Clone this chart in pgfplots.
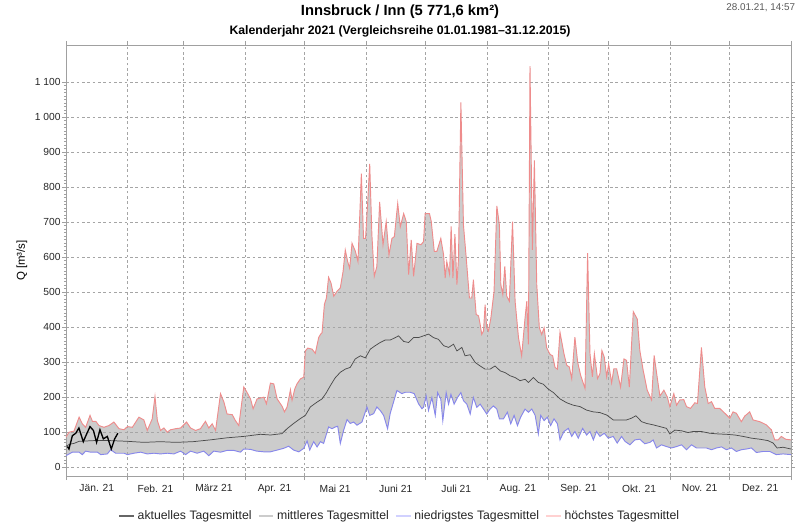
\documentclass[border=0pt]{standalone}
\usepackage{fontspec}
\setmainfont{Liberation Sans}
\usepackage{pgfplots}
\pgfplotsset{compat=1.18}
\usepgfplotslibrary{fillbetween}
\definecolor{maxc}{RGB}{238,140,140}
\definecolor{minc}{RGB}{135,135,235}
\definecolor{meanc}{RGB}{75,75,75}
\definecolor{fillc}{RGB}{204,204,204}
\definecolor{gridc}{RGB}{165,165,165}
\definecolor{framec}{RGB}{160,160,160}
\begin{document}
\begin{tikzpicture}
\begin{axis}[
  at={(0pt,0pt)}, anchor=south west,
  scale only axis, width=543.75pt, height=323.25pt,
  set layers,
  xmin=0, xmax=365, ymin=-25, ymax=1205,
  axis line style={framec},
  every tick/.style={framec},
  tick align=outside,
  major tick length=3pt, minor tick length=1.6pt,
  xtick={0,31,59,90,120,151,181,212,243,273,304,334,365},
  xticklabels={},
  extra x ticks={15.5,45,74.5,105,135.5,166,196.5,227.5,258,288.5,319,349.5},
  extra x tick labels={Jän. 21,Feb. 21,März 21,Apr. 21,Mai 21,Juni 21,Juli 21,Aug. 21,Sep. 21,Okt. 21,Nov. 21,Dez. 21},
  extra x tick style={grid=none, major tick length=0pt},
  ytick={0,100,...,1100},
  yticklabels={0,100,200,300,400,500,600,700,800,900,1 000,1 100},
  minor y tick num=9,
  xmajorgrids, ymajorgrids,
  major grid style={gridc, dash pattern=on 2pt off 2pt, line width=0.4pt},
  tick label style={font=\fontsize{7.7}{9}\selectfont, text=black!85},
  xticklabel style={yshift=-3pt},
  yticklabel style={xshift=2.5pt},
  ylabel={Q [m³/s]},
  ylabel style={at={(axis description cs:-0.0607,0.5)}, anchor=center, font=\fontsize{8.6}{10}\selectfont},
  legend style={at={(0.4607,-0.0928)}, anchor=center, draw=none, fill=none,
    font=\fontsize{9.2}{11}\selectfont, text=black!85,
    /tikz/every even column/.append style={column sep=2.5pt}},
  legend columns=4,
  legend image code/.code={\draw[#1] (0pt,0pt) -- (11pt,0pt);},
]
\addlegendimage{line width=1.6pt, black!60}
\addlegendentry{aktuelles Tagesmittel}
\addlegendimage{line width=1.6pt, black!20}
\addlegendentry{mittleres Tagesmittel}
\addlegendimage{line width=1.6pt, blue!18}
\addlegendentry{niedrigstes Tagesmittel}
\addlegendimage{line width=1.6pt, red!18}
\addlegendentry{höchstes Tagesmittel}

\addplot[name path=maxp, draw=maxc, line width=0.7pt, forget plot] coordinates {
(0,86)(1.5,100)(4,103)(6.6,143)(8.2,124)(9.9,114)(12.1,148)(13.3,131)(15,131)(16.6,119)(19.1,114)(21.6,119)(24.1,129)(26.7,110)(29.2,107)(30.9,116)(33.4,114)(36.7,143)(39.2,135)(40.9,105)(43.4,138)(44.8,202)(46,133)(47.6,105)(49.3,112)(51,100)(52.6,107)(55.2,110)(57.7,112)(60.7,129)(62.7,112)(65.2,105)(67.7,110)(70.2,131)(71.9,112)(73.6,124)(75.3,105)(77.8,210)(79.5,186)(81.1,152)(83.7,150)(85.3,133)(87,119)(89.5,229)(91,215)(92.9,195)(94.2,167)(96.2,195)(99.6,200)(100.9,181)(102.9,240)(104.6,238)(106.3,195)(108.8,174)(110,158)(111.3,172)(113,221)(113.8,191)(115.2,224)(116.3,238)(118,252)(119.7,257)(120.5,332)(121.7,340)(123.9,337)(125.5,325)(127.2,370)(128.1,379)(128.9,384)(130.1,465)(131.1,483)(132.2,542)(133.4,526)(134.8,488)(136.4,502)(138.1,512)(139.5,559)(140.6,620)(141.8,587)(142.8,568)(144,639)(145.7,616)(147,587)(148.7,838)(149.8,653)(150.8,653)(151.9,757)(152.9,866)(154,663)(155.2,545)(156.5,573)(157.9,757)(159.6,635)(161.2,701)(162.6,606)(164.1,653)(165.3,658)(167,753)(168.3,686)(170,724)(171.3,701)(172.5,550)(173.8,649)(175,545)(176.7,639)(178.7,635)(180,644)(180.8,724)(183,724)(183.9,701)(185.4,616)(186.7,616)(188.7,653)(190.1,606)(190.9,540)(191.7,587)(193.1,551)(193.9,687)(194.8,540)(195.8,665)(196.8,521)(197.6,597)(198.8,1041)(200.1,691)(201.5,597)(203.1,483)(204.3,483)(205.1,535)(206.5,436)(207.7,432)(208.5,408)(209.3,379)(210.2,389)(211,464)(211.8,398)(212.7,389)(213.9,426)(215.5,502)(216.9,746)(218.2,691)(218.9,521)(219.9,493)(220.9,573)(221.9,488)(223.2,474)(224.8,701)(226.1,474)(227.8,370)(229.4,318)(231.1,426)(232,474)(232.8,351)(233.6,1145)(234.8,620)(235.8,876)(237,521)(238.3,398)(239.5,379)(240.7,398)(242,341)(243.7,322)(245,318)(246.2,285)(247.4,280)(248.7,385)(250.7,324)(252.1,291)(253.4,286)(254.6,253)(256.2,371)(257.6,300)(259.1,262)(261.3,225)(262.6,611)(263.8,324)(265,258)(266,324)(267.6,253)(268.8,267)(269.8,333)(271,314)(272.2,258)(273.2,295)(274.7,241)(275.8,281)(277.2,281)(279.2,229)(280.9,309)(282.2,305)(283.6,229)(285.6,444)(287.6,423)(288.9,333)(290.6,276)(292.6,220)(294.8,192)(296.1,319)(297.6,258)(299,203)(301,220)(302.7,201)(304,173)(306,210)(307.4,177)(309,192)(311,193)(312.4,173)(314.4,168)(316.6,184)(317.9,182)(319.9,342)(321.6,229)(323.3,182)(325,187)(326.6,168)(329.1,168)(331.7,154)(334.2,140)(335.8,158)(337.5,154)(340,130)(341.7,146)(344.2,158)(345.9,135)(349.3,130)(352.6,121)(355.1,107)(356.8,78)(358.5,78)(360.1,88)(362.3,80)(365,78)
};
\addplot[name path=minp, draw=minc, line width=0.7pt, forget plot] coordinates {
(0,33)(3.2,43)(6.6,43)(8.2,36)(9.9,46)(12.4,43)(15.8,43)(17.5,36)(20.8,38)(22.5,50)(25,40)(29.2,40)(30.9,36)(34.2,40)(37.6,43)(40.9,38)(44.3,40)(47.6,38)(51,40)(54.3,38)(57.7,46)(60.2,36)(62.7,46)(66,40)(69.4,46)(71.9,33)(74.4,46)(77.8,43)(81.1,48)(84.5,48)(87.8,43)(89.5,52)(92.9,51)(96,46)(99.6,44)(102.9,44)(106.3,49)(109.6,54)(112.1,60)(114.6,49)(117.2,44)(119.7,54)(121.4,75)(122.7,49)(124.7,73)(126.4,58)(128.1,73)(129.7,68)(132.2,115)(133.9,110)(135.6,115)(136.8,117)(138.1,68)(139.8,106)(141.5,136)(143.1,125)(144.8,129)(146.5,120)(149,129)(151.5,172)(152.9,148)(154.9,153)(156.5,172)(158.2,162)(159.9,148)(161.9,110)(163.2,153)(164.9,186)(166.6,219)(169.1,210)(170.8,214)(173.3,214)(175.3,210)(177.5,181)(179.2,167)(180,171)(181.3,204)(182.5,162)(184.2,199)(185.9,148)(187.1,213)(188.7,194)(189.7,133)(191.4,213)(192.6,180)(193.8,208)(195.4,180)(197.1,199)(198.8,213)(200.1,190)(201.8,180)(203.5,152)(205.1,199)(206.8,171)(208.5,180)(210.2,166)(211.8,152)(213.5,166)(215.2,175)(216.9,166)(218.2,138)(220.2,138)(222.2,157)(223.9,124)(225.6,148)(227.3,119)(228.9,143)(231.1,166)(232.8,157)(234.5,166)(236.2,148)(237.8,95)(239,148)(240.7,133)(242.3,143)(244,119)(245.7,138)(247.4,124)(248.7,78)(250.7,102)(252.9,111)(254.6,88)(256.2,102)(257.9,83)(260.1,111)(262.1,92)(263.8,102)(265.5,78)(267.1,102)(268.8,88)(271,97)(273,83)(275.5,88)(277.5,69)(279.7,88)(281.4,74)(283.9,64)(286.4,78)(288.9,80)(291.4,67)(294,71)(295.6,78)(297.3,55)(299.8,64)(302.3,59)(304.8,55)(307.4,59)(309.9,64)(312.4,50)(314.9,64)(317.4,55)(319.9,55)(322.4,55)(325,50)(327.5,55)(330,58)(332.5,50)(335,55)(337.5,45)(340,50)(342.5,52)(345.1,55)(347.6,42)(350.9,45)(354.3,45)(357.6,36)(361,38)(365,36)
};
\addplot[fill=fillc, draw=none, forget plot] fill between[of=maxp and minp, on layer=axis background];
\addplot[draw=meanc, line width=0.55pt, forget plot] coordinates {
(0,60)(2,66)(4,68)(6.6,74)(14,76)(22.5,76)(30.9,74)(39.2,71)(47.6,73)(55.2,71)(64,73)(72.5,78)(81.1,84)(89.5,88)(97.9,94)(103,92)(108.8,96)(111.3,110)(114.6,125)(118,139)(120.5,148)(123,172)(126.4,186)(128.9,195)(131,212)(133.1,233)(135.5,255)(138.1,271)(140.6,280)(143.1,285)(145.6,309)(148.2,318)(150.7,312)(153.2,337)(155.7,347)(158.2,356)(160.7,363)(163.2,363)(165.8,370)(167.4,375)(170,359)(172.5,356)(175,370)(177.5,370)(180,375)(182.5,380)(185,370)(187.5,365)(190.1,347)(192.6,342)(195.1,351)(196.8,332)(199.3,342)(200.9,318)(203.5,321)(206,299)(208.5,289)(211,280)(213.5,280)(216,289)(218.6,275)(221.1,270)(223.6,261)(226.1,256)(228.6,247)(231.1,251)(232.8,242)(235.3,256)(237.8,242)(240.3,237)(242.8,223)(245.4,213)(248.7,195)(252.1,184)(255.4,177)(258.8,173)(262.1,163)(265.5,158)(268.8,156)(272.2,149)(275.5,135)(278.9,135)(282.2,135)(284.7,140)(286.9,147)(289.8,130)(292.3,125)(295.6,121)(299,116)(302.3,111)(304,95)(306.5,106)(309.9,104)(313.2,99)(315.7,102)(319.9,102)(324.1,97)(328.3,95)(332.5,94)(336.7,92)(340.9,88)(345.1,83)(349.3,80)(353.4,76)(356,69)(358,55)(361,57)(365,52)
};
\addplot[draw=black, line width=1pt, forget plot] coordinates {
(0.7,59)(1.5,52)(3.2,90)(4.9,97)(6.5,112)(8.7,73)(10.4,95)(12.1,116)(13.8,105)(15.4,71)(17.1,107)(18.8,81)(20.8,88)(22.8,52)(24.5,81)(26.1,97)
};
\end{axis}
\node[font=\bfseries\fontsize{11.05}{13}\selectfont] at (250.5pt,348pt) {Innsbruck / Inn (5 771,6 km²)};
\node[font=\bfseries\fontsize{9.2}{11}\selectfont] at (250.5pt,333.5pt) {Kalenderjahr 2021 (Vergleichsreihe 01.01.1981–31.12.2015)};
\node[font=\fontsize{7.4}{9}\selectfont, text=black!65, anchor=east, inner sep=0pt] at (547pt,351.5pt) {28.01.21, 14:57};
\pgfresetboundingbox
\path (-49.5pt,-39.75pt) rectangle (550.5pt,357pt);
\end{tikzpicture}
\end{document}
